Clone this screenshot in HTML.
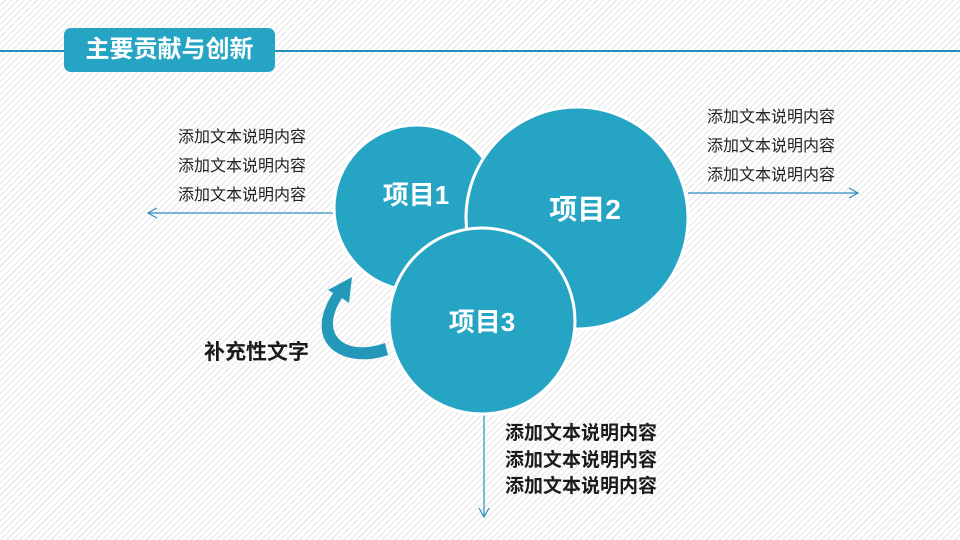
<!DOCTYPE html>
<html><head><meta charset="utf-8"><style>
body{margin:0;width:960px;height:540px;overflow:hidden;position:relative;font-family:"Liberation Sans","Noto Sans CJK SC",sans-serif;
background:repeating-linear-gradient(-45deg,#fff 0 3px,#ececec 3px 4.5px);}
.t{position:absolute;font-size:16px;color:#222;line-height:29px;white-space:nowrap}
.b{position:absolute;font-size:19px;font-weight:bold;color:#1a1a1a;line-height:26.5px;white-space:nowrap}
</style></head><body>
<div style="position:absolute;left:0;top:50px;width:960px;height:2px;background:#1f8fc0"></div>
<div style="position:absolute;left:64px;top:28px;width:211px;height:44px;background:#25a5c3;border-radius:7px;color:#fff;font-size:24px;font-weight:bold;line-height:44px;text-align:center">主要贡献与创新</div>
<svg width="960" height="540" style="position:absolute;left:0;top:0">
<defs><marker id="a" markerWidth="12" markerHeight="12" refX="10" refY="6" orient="auto" markerUnits="userSpaceOnUse"><path d="M1,1 L10,6 L1,11" fill="none" stroke="#2a8fc0" stroke-width="1.2"/></marker></defs>
<line x1="333" y1="213" x2="148" y2="213" stroke="#2a8fc0" stroke-width="1.2" marker-end="url(#a)"/>
<line x1="688" y1="193" x2="858" y2="193" stroke="#2a8fc0" stroke-width="1.2" marker-end="url(#a)"/>
<line x1="484" y1="414" x2="484" y2="517" stroke="#2a8fc0" stroke-width="1.2" marker-end="url(#a)"/>
<circle cx="417" cy="208" r="83" fill="#25a5c3" stroke="#fff" stroke-width="3"/>
<circle cx="577" cy="218" r="111" fill="#25a5c3" stroke="#fff" stroke-width="3"/>
<circle cx="482" cy="321" r="93" fill="#25a5c3" stroke="#fff" stroke-width="3"/>
<path d="M388,355 C345,370 300,345 333,293 L328,290 L352,277 L349,303 L342,298 C318,335 345,357 385,343 Z" fill="#2398b8"/>
<text x="416" y="204" font-size="26" font-weight="bold" fill="#fff" text-anchor="middle" font-family="Liberation Sans,Noto Sans CJK SC,sans-serif">项目1</text>
<text x="585" y="219" font-size="28" font-weight="bold" fill="#fff" text-anchor="middle" font-family="Liberation Sans,Noto Sans CJK SC,sans-serif">项目2</text>
<text x="482" y="331" font-size="26" font-weight="bold" fill="#fff" text-anchor="middle" font-family="Liberation Sans,Noto Sans CJK SC,sans-serif">项目3</text>
</svg>
<div class="t" style="left:178px;top:123px">添加文本说明内容<br>添加文本说明内容<br>添加文本说明内容</div>
<div class="t" style="left:707px;top:103px">添加文本说明内容<br>添加文本说明内容<br>添加文本说明内容</div>
<div class="b" style="left:505px;top:421px">添加文本说明内容<br>添加文本说明内容<br>添加文本说明内容</div>
<div class="b" style="left:204px;top:340px;font-size:21px">补充性文字</div>
</body></html>
